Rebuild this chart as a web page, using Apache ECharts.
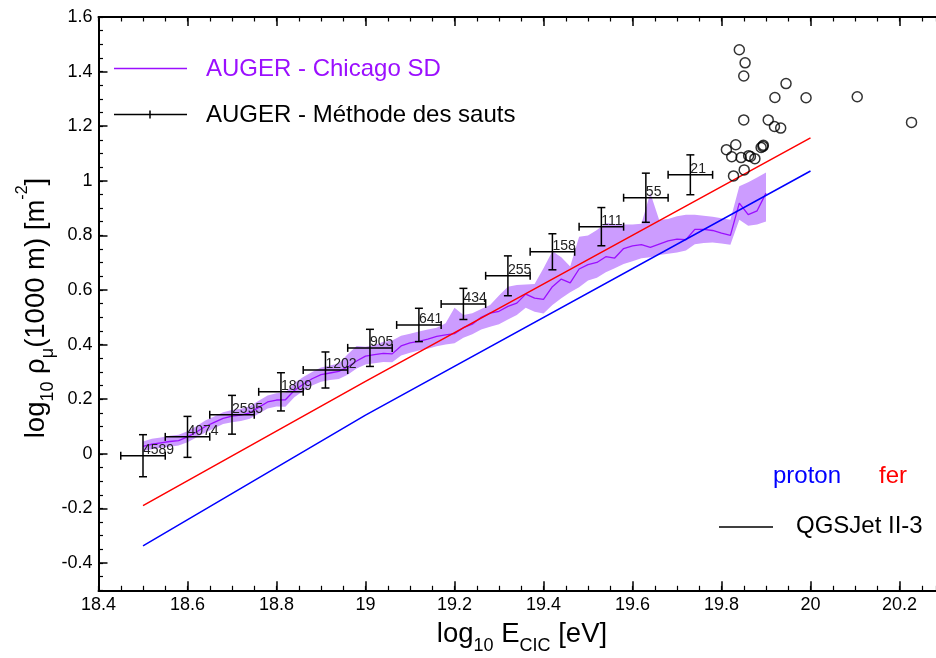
<!DOCTYPE html>
<html><head><meta charset="utf-8">
<script src="https://cdn.jsdelivr.net/npm/echarts@6/dist/echarts.min.js"></script>
<style>html,body{margin:0;padding:0;background:#fff}#c{width:936px;height:658px}</style>
</head><body><div id="c"></div>
<script>
// ---------- DATA ----------
// AUGER - Chicago SD : central line and band edges
const X_SD = [18.50,18.52,18.54,18.56,18.58,18.60,18.62,18.64,18.66,18.68,18.70,18.72,18.74,18.76,18.78,18.80,18.82,18.84,18.86,18.88,18.90,18.92,18.94,18.96,18.98,19.00,19.02,19.04,19.06,19.08,19.10,19.12,19.14,19.16,19.18,19.20,19.22,19.24,19.26,19.28,19.30,19.32,19.34,19.36,19.38,19.40,19.42,19.44,19.46,19.48,19.50,19.52,19.54,19.56,19.58,19.60,19.62,19.64,19.66,19.68,19.70,19.72,19.74,19.76,19.78,19.80,19.82,19.84,19.86,19.88,19.90];
const C_SD = [0.027,0.035,0.040,0.045,0.048,0.062,0.080,0.100,0.115,0.130,0.138,0.142,0.150,0.170,0.190,0.197,0.198,0.232,0.255,0.275,0.290,0.296,0.302,0.318,0.340,0.358,0.363,0.368,0.366,0.395,0.406,0.412,0.420,0.430,0.436,0.440,0.462,0.475,0.500,0.515,0.522,0.540,0.552,0.585,0.570,0.566,0.612,0.640,0.626,0.677,0.693,0.701,0.722,0.717,0.752,0.762,0.766,0.756,0.768,0.780,0.786,0.784,0.822,0.822,0.818,0.808,0.800,0.918,0.876,0.890,0.955];
const UP_SD = [0.045,0.055,0.060,0.066,0.070,0.083,0.101,0.122,0.137,0.152,0.160,0.165,0.174,0.194,0.214,0.222,0.225,0.258,0.281,0.300,0.316,0.323,0.331,0.365,0.395,0.392,0.398,0.410,0.415,0.432,0.440,0.448,0.455,0.462,0.478,0.535,0.508,0.515,0.530,0.545,0.580,0.612,0.618,0.620,0.622,0.680,0.742,0.720,0.686,0.795,0.800,0.820,0.845,0.842,0.840,0.840,0.843,0.955,0.856,0.860,0.870,0.876,0.876,0.872,0.868,0.863,0.857,0.980,0.995,1.012,1.030];
const LO_SD = [0.010,0.017,0.022,0.026,0.030,0.042,0.060,0.078,0.094,0.109,0.116,0.120,0.128,0.147,0.166,0.173,0.172,0.207,0.230,0.250,0.264,0.270,0.274,0.290,0.312,0.327,0.332,0.336,0.335,0.360,0.370,0.378,0.385,0.394,0.400,0.405,0.425,0.438,0.455,0.465,0.475,0.492,0.508,0.535,0.520,0.514,0.545,0.570,0.592,0.610,0.635,0.645,0.665,0.680,0.695,0.705,0.716,0.720,0.728,0.733,0.737,0.745,0.768,0.772,0.774,0.770,0.766,0.857,0.835,0.840,0.851];

// AUGER - Méthode des sauts (points with error bars)
const X_J  = [18.50,18.60,18.70,18.81,18.91,19.01,19.12,19.22,19.32,19.42,19.53,19.63,19.73];
const Y_J  = [-0.007,0.062,0.143,0.227,0.307,0.388,0.472,0.549,0.652,0.740,0.832,0.938,1.022];
const EX_J = [0.05,0.05,0.05,0.05,0.05,0.05,0.05,0.05,0.05,0.05,0.05,0.05,0.05];
const EY_J = [0.077,0.075,0.071,0.070,0.066,0.068,0.061,0.057,0.073,0.066,0.070,0.090,0.073];
const N_J  = ['4589','4074','2595','1809','1202','905','641','434','255','158','111','55','21'];

// Individual events (open circles)
const X_EV = [19.840,19.853,19.850,19.945,19.920,19.990,20.105,20.227,19.850,19.905,19.919,19.933,19.832,19.811,19.823,19.844,19.861,19.865,19.875,19.889,19.894,19.893,19.851,19.827];
const Y_EV = [1.480,1.432,1.384,1.356,1.305,1.304,1.308,1.214,1.223,1.223,1.199,1.193,1.132,1.114,1.088,1.085,1.092,1.089,1.081,1.122,1.130,1.126,1.040,1.018];

// QGSJet II-3 predictions
const X_FE = [18.5, 19.0, 20.0];
const Y_FE = [-0.190, 0.265, 1.157];
const X_P  = [18.5, 19.0, 20.0];
const Y_P  = [-0.337, 0.142, 1.036];

// Axis ticks
const X_MAJ = [18.4,18.6,18.8,19,19.2,19.4,19.6,19.8,20,20.2];
const Y_MAJ = [-0.4,-0.2,0,0.2,0.4,0.6,0.8,1,1.2,1.4,1.6];

// ---------- CHART ----------
const FONT = '"Liberation Sans", Arial, Helvetica, sans-serif';
const PURPLE = '#9b0fff';
const BAND = '#cc9cff';
const XMIN = 18.4, XMAX = 20.282;
const fmt = v => String(Math.round(v * 10) / 10);
const chart = echarts.init(document.getElementById('c'), null, {renderer: 'canvas'});

function xAx(pos, major) {
  return major ? {
    type: 'value', min: XMIN, max: XMAX, position: pos,
    axisLine: {show: true, onZero: false, lineStyle: {color: '#000', width: 2}},
    axisTick: {show: true, inside: true, length: 9, customValues: X_MAJ, lineStyle: {color: '#000', width: 1.5}},
    axisLabel: {show: pos === 'bottom', customValues: X_MAJ, formatter: fmt, fontSize: 18, color: '#000', fontFamily: FONT, margin: 6},
    splitLine: {show: false}
  } : {
    type: 'value', min: XMIN, max: XMAX, interval: 0.05, position: pos,
    axisLine: {show: false, onZero: false},
    axisTick: {show: true, inside: true, length: 4.5, lineStyle: {color: '#000', width: 1.2}},
    axisLabel: {show: false}, splitLine: {show: false}
  };
}
function yAx(major) {
  return major ? {
    type: 'value', min: -0.5, max: 1.6, position: 'left',
    axisLine: {show: true, onZero: false, lineStyle: {color: '#000', width: 2}},
    axisTick: {show: true, inside: true, length: 9, customValues: Y_MAJ, lineStyle: {color: '#000', width: 1.5}},
    axisLabel: {customValues: Y_MAJ, formatter: fmt, fontSize: 18, color: '#000', fontFamily: FONT, margin: 6},
    splitLine: {show: false}
  } : {
    type: 'value', min: -0.5, max: 1.6, interval: 0.05, position: 'left',
    axisLine: {show: false, onZero: false},
    axisTick: {show: true, inside: true, length: 4.5, lineStyle: {color: '#000', width: 1.2}},
    axisLabel: {show: false}, splitLine: {show: false}
  };
}

const sdLine = X_SD.map((x, i) => [x, C_SD[i]]);
const jData = X_J.map((x, i) => [x, Y_J[i], EX_J[i], EY_J[i]]);
const evData = X_EV.map((x, i) => [x, Y_EV[i]]);

const sub = {fontSize: 18, fontFamily: FONT, fill: '#000', verticalAlign: 'bottom', lineHeight: 18};
const sup = {fontSize: 16, fontFamily: FONT, fill: '#000', verticalAlign: 'top', lineHeight: 16};
const main = {fontSize: 27.5, fontFamily: FONT, fill: '#000', lineHeight: 42};

chart.setOption({
  animation: false,
  grid: {left: 98.5, top: 17, right: 0, bottom: 67.7, containLabel: false},
  xAxis: [xAx('bottom', true), xAx('bottom', false), xAx('top', true), xAx('top', false)],
  yAxis: [yAx(true), yAx(false)],
  series: [
    {
      type: 'custom', xAxisIndex: 0, yAxisIndex: 0, z: 1, silent: true,
      data: [0],
      renderItem: function (params, api) {
        const pts = [];
        for (let i = 0; i < X_SD.length; i++) pts.push(api.coord([X_SD[i], UP_SD[i]]));
        for (let i = X_SD.length - 1; i >= 0; i--) pts.push(api.coord([X_SD[i], LO_SD[i]]));
        return {type: 'polygon', shape: {points: pts}, style: {fill: BAND, stroke: null}};
      }
    },
    {type: 'line', data: sdLine, symbol: 'none', z: 2, lineStyle: {color: PURPLE, width: 1.3}},
    {type: 'line', data: X_FE.map((x, i) => [x, Y_FE[i]]), symbol: 'none', z: 3, lineStyle: {color: '#ff0000', width: 1.5}},
    {type: 'line', data: X_P.map((x, i) => [x, Y_P[i]]), symbol: 'none', z: 3, lineStyle: {color: '#0000ff', width: 1.5}},
    {
      type: 'custom', z: 4, data: jData,
      renderItem: function (params, api) {
        const x = api.value(0), y = api.value(1), ex = api.value(2), ey = api.value(3);
        const c = api.coord([x, y]);
        const l = api.coord([x - ex, y]), r = api.coord([x + ex, y]);
        const t = api.coord([x, y + ey]), b = api.coord([x, y - ey]);
        const st = {stroke: '#000', lineWidth: 1.5};
        const cap = 4;
        return {type: 'group', children: [
          {type: 'line', shape: {x1: l[0], y1: c[1], x2: r[0], y2: c[1]}, style: st},
          {type: 'line', shape: {x1: c[0], y1: t[1], x2: c[0], y2: b[1]}, style: st},
          {type: 'line', shape: {x1: l[0], y1: c[1] - cap, x2: l[0], y2: c[1] + cap}, style: st},
          {type: 'line', shape: {x1: r[0], y1: c[1] - cap, x2: r[0], y2: c[1] + cap}, style: st},
          {type: 'line', shape: {x1: c[0] - cap, y1: t[1], x2: c[0] + cap, y2: t[1]}, style: st},
          {type: 'line', shape: {x1: c[0] - cap, y1: b[1], x2: c[0] + cap, y2: b[1]}, style: st},
          {type: 'text', x: c[0], y: c[1] + 1, style: {text: N_J[params.dataIndex], align: 'left', verticalAlign: 'bottom', font: '14px ' + FONT, fill: '#222'}}
        ]};
      }
    },
    {type: 'scatter', data: evData, symbol: 'circle', symbolSize: 10, z: 5,
     itemStyle: {color: 'rgba(0,0,0,0)', borderColor: '#000', borderWidth: 1.5}}
  ],
  graphic: [
    // legend top-left
    {type: 'line', shape: {x1: 114, y1: 68.5, x2: 187, y2: 68.5}, style: {stroke: PURPLE, lineWidth: 1.3}},
    {type: 'text', x: 206, y: 69, style: {text: 'AUGER - Chicago SD', font: '24px ' + FONT, fill: PURPLE, verticalAlign: 'middle'}},
    {type: 'line', shape: {x1: 114, y1: 114.5, x2: 187, y2: 114.5}, style: {stroke: '#000', lineWidth: 1.5}},
    {type: 'line', shape: {x1: 150, y1: 110.5, x2: 150, y2: 118.5}, style: {stroke: '#000', lineWidth: 1.5}},
    {type: 'text', x: 206, y: 115, style: {text: 'AUGER - Méthode des sauts', font: '24px ' + FONT, fill: '#000', verticalAlign: 'middle'}},
    // model legend bottom-right
    {type: 'text', x: 773, y: 476, style: {text: 'proton', font: '24px ' + FONT, fill: '#0000ff', verticalAlign: 'middle'}},
    {type: 'text', x: 879, y: 476, style: {text: 'fer', font: '24px ' + FONT, fill: '#ff0000', verticalAlign: 'middle'}},
    {type: 'line', shape: {x1: 719, y1: 527, x2: 773, y2: 527}, style: {stroke: '#000', lineWidth: 1.5}},
    {type: 'text', x: 796, y: 526, style: {text: 'QGSJet II-3', font: '24px ' + FONT, fill: '#000', verticalAlign: 'middle'}},
    // axis titles
    {type: 'text', x: 522, y: 634, style: {
      text: '{m|log}{s|10}{m| E}{s|CIC}{m| [eV]}', align: 'center', verticalAlign: 'middle',
      rich: {m: main, s: sub}}},
    {type: 'text', x: 36, y: 308, rotation: Math.PI / 2, style: {
      text: '{m|log}{s|10}{m| ρ}{s|μ}{m|(1000 m) [m}{p|-2}{m|]}', align: 'center', verticalAlign: 'middle',
      rich: {m: main, s: sub, p: sup}}}
  ]
});
</script></body></html>
